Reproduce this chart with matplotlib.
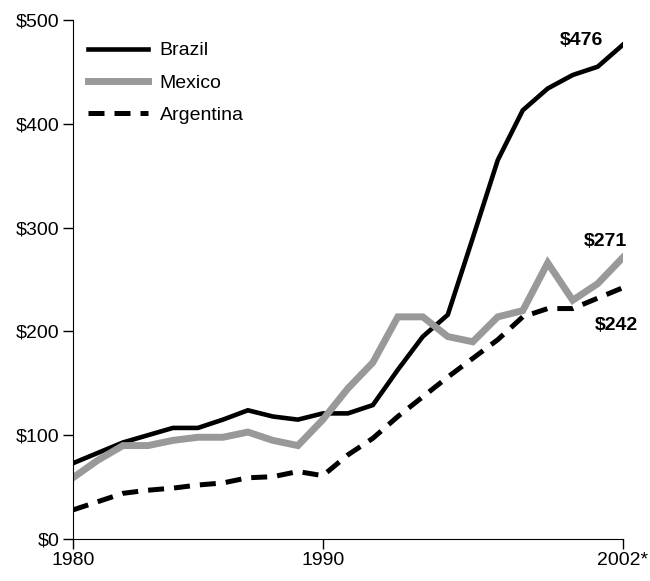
import matplotlib
matplotlib.use("Agg")
import matplotlib.pyplot as plt

# annees et valeurs
years = list(range(1980, 2003))
brazil = [73, 83, 93, 100, 107, 107, 115, 124, 118, 115, 121, 121, 129,
          163, 195, 216, 290, 365, 413, 434, 447, 455, 476]
mexico = [59, 76, 90, 90, 95, 98, 98, 103, 95, 90, 115, 145, 170,
          214, 214, 195, 190, 214, 220, 266, 230, 246, 271]
argentina = [28, 36, 44, 47, 49, 52, 54, 59, 60, 65, 61, 81, 97,
             118, 137, 156, 174, 192, 214, 222, 222, 232, 242]

xticks = [1980, 1990, 2002]
xlabels = ["1980", "1990", "2002*"]
yticks = [0, 100, 200, 300, 400, 500]
ylabels = ["$0", "$100", "$200", "$300", "$400", "$500"]

plt.rcParams['font.family'] = ['Liberation Sans', 'DejaVu Sans']

fig = plt.figure(figsize=(6.5, 5.81), dpi=100)
ax = fig.add_axes([0.1123, 0.0723, 0.8457, 0.8933])

ax.plot(years, brazil, color='black', lw=3.3, label='Brazil', solid_joinstyle='miter')
ax.plot(years, mexico, color='#999999', lw=5, label='Mexico', solid_joinstyle='miter')
ax.plot(years, argentina, color='black', lw=3.6, ls=(0, (3.2, 2)), label='Argentina')

ax.set_xlim(1980, 2002)
ax.set_ylim(0, 500)
ax.set_xticks(xticks)
ax.set_xticklabels(xlabels)
ax.set_yticks(yticks)
ax.set_yticklabels(ylabels)
ax.tick_params(labelsize=14, length=7.5, width=1, direction='out', pad=2)
ax.spines['top'].set_visible(False)
ax.spines['right'].set_visible(False)

# etiquettes de fin de courbe (decalages en points)
for y, txt, dx, dy in [(brazil[-1], "$476", -14, 3),
                       (mexico[-1], "$271", 3, 12),
                       (argentina[-1], "$242", 11, -27)]:
    ax.annotate(txt, (2002, y), xytext=(dx, dy), textcoords='offset points',
                ha='right', va='center', fontsize=14, fontweight='bold')

leg = ax.legend(loc='upper left', bbox_to_anchor=(0.0265, 0.958), frameon=False,
                fontsize=14, handlelength=3.1, labelspacing=0.76, handletextpad=0.6,
                borderpad=0, borderaxespad=0)

plt.savefig("out.png", dpi=100)
